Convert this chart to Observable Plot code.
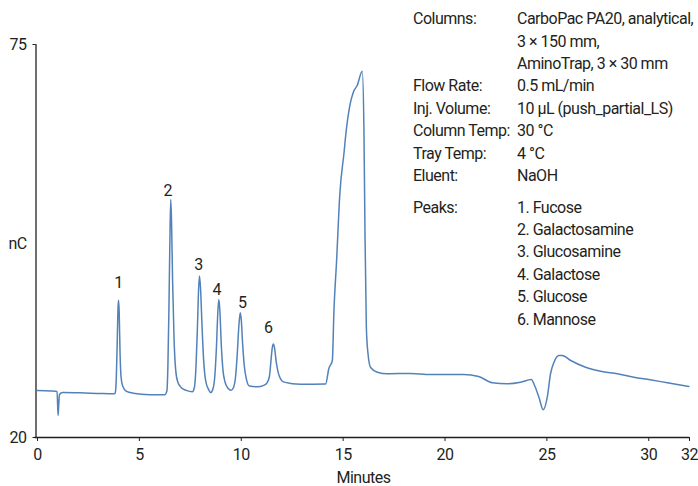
<!DOCTYPE html>
<html>
<head>
<meta charset="utf-8">
<script src="https://cdn.jsdelivr.net/npm/d3@7"></script>
<script src="https://cdn.jsdelivr.net/npm/@observablehq/plot@0.6"></script>
<style>
  body { margin: 0; background: #fff; }
  #chart { width: 698px; height: 486px; }
</style>
</head>
<body>
<div id="chart"></div>
<script>
// Chromatogram trace: retention time (min) and detector response (nC)
const minutes = [
  0, 0.64, 0.96, 1.01, 1.04, 1.08, 1.23, 2.11, 3.09, 3.78,
  3.82, 3.87, 3.91, 3.95, 3.98, 4.01, 4.05, 4.10, 4.18, 4.35, 4.7, 5.5, 6.25,
  6.35, 6.40, 6.45, 6.50, 6.54, 6.58, 6.63, 6.70, 6.78, 6.88, 7.05, 7.3, 7.6,
  7.70, 7.78, 7.85, 7.91, 7.95, 8.00, 8.07, 8.15, 8.25, 8.40, 8.50,
  8.60, 8.70, 8.78, 8.85, 8.90, 8.95, 9.02, 9.10, 9.20, 9.35, 9.50,
  9.62, 9.72, 9.80, 9.88, 9.95, 10.00, 10.07, 10.15, 10.25, 10.40, 10.8, 11.1,
  11.25, 11.38, 11.46, 11.52, 11.57, 11.63, 11.72, 11.82, 11.95, 12.1, 12.9, 14.14,
  14.30, 14.47, 14.55, 14.68, 14.84, 15.04, 15.17, 15.33, 15.50, 15.69, 15.94,
  16.02, 16.07, 16.14, 16.22, 16.35, 16.68, 17.17, 18.31, 19.29, 20.91, 21.65,
  22.32, 23.06, 23.71, 24.24, 24.36, 24.61, 24.82, 25.02, 25.18, 25.35, 25.59,
  25.76, 26.17, 26.90, 27.64, 28.46, 29.27, 30.07, 30.91, 31.97
];
const signal = [
  26.58, 26.51, 26.44, 23.08, 24.48, 26.02, 26.30, 26.26, 26.16, 26.12,
  26.3, 28.5, 33, 38, 39.2, 37.5, 32, 28.5, 27.2, 26.5, 26.2, 26.0, 26.0,
  26.5, 30, 38, 48, 53.3, 50, 42, 34, 29.5, 27.8, 27.0, 26.6, 26.4,
  27, 30, 35.5, 41, 42.6, 41, 36, 31, 28, 26.7, 26.3,
  26.7, 28.5, 32.5, 37.5, 39.3, 37.8, 33, 29.5, 27.8, 26.9, 26.6,
  27.0, 28.5, 31.5, 35.5, 37.45, 36.5, 33, 30, 28.2, 27.2, 27.1, 27.3,
  27.6, 28.5, 30.8, 32.5, 33.1, 32.6, 30.5, 29.0, 28.1, 27.75, 27.45, 27.5,
  29.66, 30.78, 37.77, 44.77, 54.15, 59.75, 63.39, 66.47, 68.33, 69.27, 71.27,
  63.39, 49.39, 35.4, 31.76, 29.8, 29.14, 28.92, 28.96, 28.82, 28.82, 28.54,
  27.66, 27.52, 27.74, 28.12, 27.52, 25.64, 23.88, 25.64, 28.92, 30.54, 31.48,
  31.48, 30.78, 29.84, 29.28, 28.92, 28.44, 28.08, 27.66, 27.14
];

// Numbered peaks (apex time and height)
const peakNumbers = ["1", "2", "3", "4", "5", "6"];
const peakTimes = [3.98, 6.54, 7.95, 8.90, 9.95, 11.57];
const peakHeights = [39.2, 53.3, 42.6, 39.3, 37.45, 33.1];
const peakNames = ["Fucose", "Galactosamine", "Glucosamine", "Galactose", "Glucose", "Mannose"];

// Axis ticks
const xTicks = [0, 5, 10, 15, 20, 25, 30, 32];
const yTicks = [20, 75];

// Method conditions
const conditionLabels = ["Columns:", "", "", "Flow Rate:", "Inj. Volume:", "Column Temp:", "Tray Temp:", "Eluent:"];
const conditionValues = [
  "CarboPac PA20, analytical,", "3 × 150 mm,", "AminoTrap, 3 × 30 mm", "0.5 mL/min",
  "10 µL (push_partial_LS)", "30 °C", "4 °C", "NaOH"
];

const FONT = "Roboto, 'Liberation Sans', sans-serif";
const INK = "#231f20";
const TRACE = "#5282b9";

const trace = minutes.map((t, i) => ({t, v: signal[i]}));
const peaks = peakNumbers.map((n, i) => ({n, t: peakTimes[i], v: peakHeights[i]}));

// Small nudges so each number sits just above its peak
const labelNudge = [[0, -17], [-3, -9], [-1, -11], [-2, -10], [2, -10], [-5, -16]];

const peakLabels = peaks.map((p, i) =>
  Plot.text([p], {x: "t", y: "v", text: "n", dx: labelNudge[i][0], dy: labelNudge[i][1],
    fontSize: 16, fill: INK, lineAnchor: "middle"})
);

const chart = Plot.plot({
  width: 698,
  height: 486,
  marginLeft: 37,
  marginRight: 9,
  marginTop: 44,
  marginBottom: 49,
  style: {fontFamily: FONT, fontSize: "16px", color: INK, background: "#fff", letterSpacing: "-0.5px"},
  x: {domain: [0, 32]},
  y: {domain: [20, 75]},
  marks: [
    Plot.axisX({ticks: xTicks, tickSize: 4, tickPadding: 7, label: null, fontSize: 16, stroke: INK}),
    Plot.axisY({ticks: yTicks, tickSize: 3, tickPadding: 6.5, dx: -1.5, label: null, fontSize: 16, stroke: INK}),
    Plot.ruleY([20], {stroke: INK, strokeWidth: 1.3, insetLeft: -2.5}),
    Plot.ruleX([0], {y1: 20, y2: 75, stroke: INK, strokeWidth: 1.3, dx: -1.5}),
    Plot.text(["nC"], {frameAnchor: "left", dx: -20, dy: 2.5, fontSize: 16, fill: INK, textAnchor: "middle"}),
    Plot.text(["Minutes"], {frameAnchor: "bottom", dy: 40, fontSize: 16, fill: INK, textAnchor: "middle", lineAnchor: "middle"}),
    Plot.line(trace, {x: "t", y: "v", stroke: TRACE, strokeWidth: 1.5, curve: "monotone-x"}),
    ...peakLabels
  ]
});

document.getElementById("chart").appendChild(chart);

// Conditions and peak list, top right
const info = d3.select(chart).append("g")
  .attr("font-family", FONT)
  .attr("font-size", 16)
  .attr("letter-spacing", "-0.5px")
  .attr("text-anchor", "start")
  .attr("fill", INK);

conditionLabels.forEach((label, i) => {
  const y = 19 + i * 22.4;
  if (label) info.append("text").attr("x", 413).attr("y", y).attr("dy", "0.32em").text(label);
  info.append("text").attr("x", 517).attr("y", y).attr("dy", "0.32em").text(conditionValues[i]);
});

info.append("text").attr("x", 413).attr("y", 207.5).attr("dy", "0.32em").text("Peaks:");
peakNames.forEach((name, i) => {
  info.append("text").attr("x", 517).attr("y", 207.5 + i * 22.4).attr("dy", "0.32em")
    .text(`${peakNumbers[i]}. ${name}`);
});
</script>
</body>
</html>
